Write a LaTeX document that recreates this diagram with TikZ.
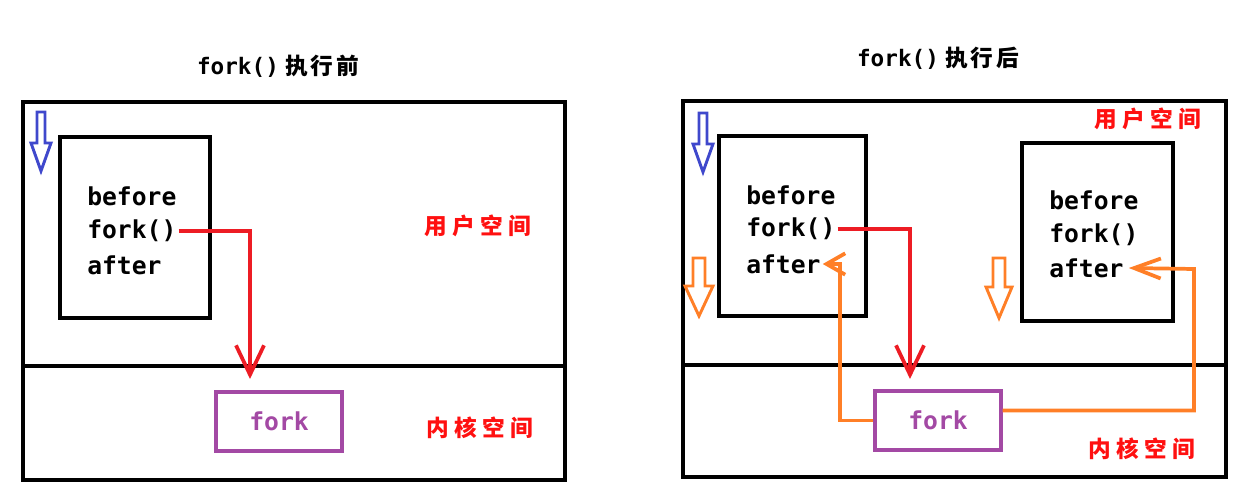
\documentclass[tikz,border=0pt]{standalone}
\usepackage{fontspec}
\setmonofont{DejaVu Sans Mono}
\newfontfamily\cjk{Noto Sans CJK SC}
\usepackage{tikz}
\usetikzlibrary{arrows.meta,calc}
\definecolor{paintred}{HTML}{ED1C24}
\definecolor{paintblue}{HTML}{3F48CC}
\definecolor{paintorange}{HTML}{FF7F27}
\definecolor{paintpurple}{HTML}{A349A4}
\definecolor{labelred}{HTML}{FF1010}

\begin{document}
\begin{tikzpicture}[x=0.75pt,y=-0.75pt,
    frame/.style={black,line width=2.4pt},
    codeline/.style={anchor=west,inner sep=1.5pt,
      font=\fontsize{18.5}{20}\selectfont\ttfamily\bfseries},
    kernelbox/.style={draw=paintpurple,line width=2.4pt,text=paintpurple,
      minimum width=94.5pt,minimum height=44.25pt,inner sep=0pt,
      font=\fontsize{18.5}{20}\selectfont\ttfamily\bfseries},
    spacelabel/.style={text=labelred,inner sep=0pt,
      font=\fontsize{17}{18}\selectfont\cjk\bfseries},
    title/.style={inner sep=0pt,font=\fontsize{17}{18}\selectfont\ttfamily\bfseries},
    call/.style={paintred,line width=2.8pt,-{Straight Barb[length=22pt,width=21pt]}},
    ret/.style={paintorange,line width=2.8pt},
    hollow/.style={line width=2.2pt,line join=miter}]
  \useasboundingbox (0,0) rectangle (1253,491);

  % before fork()
  \node[title] (t1) at (278,66) {fork()\hspace{5pt}{\cjk 执\hspace{2pt}行\hspace{2pt}前}};
  \draw[frame] (23,102) rectangle (565,480);
  \draw[frame] (23,366) -- (565,366);
  \draw[frame] (60,137) rectangle (210,318);
  \node[codeline] (b1) at (85,196) {before};
  \node[codeline] (f1) at (85,231) {fork()};
  \node[codeline] (a1) at (85,265) {after};
  \node[kernelbox] (k1) at (279,421.5) {fork};
  \node[spacelabel] (u1) at (478,226) {用\hspace{4pt}户\hspace{4pt}空\hspace{4pt}间};
  \node[spacelabel] (n1) at (480,428) {内\hspace{4pt}核\hspace{4pt}空\hspace{4pt}间};
  \coordinate (c1) at (250,379);
  \draw[call] (f1.east) -| (c1);
  \draw[hollow,paintblue] (37,112) -- (45,112) -- (45,143) -- (51,143)
    -- (41,171) -- (31,143) -- (37,143) -- cycle;

  % after fork()
  \node[title] (t2) at (938,58) {fork()\hspace{5pt}{\cjk 执\hspace{2pt}行\hspace{2pt}后}};
  \draw[frame] (683,101) rectangle (1226,477);
  \draw[frame] (683,365) -- (1226,365);
  \draw[frame] (719,136) rectangle (866,316);
  \draw[frame] (1022,143) rectangle (1173,321);
  \node[codeline] (b2) at (744,195) {before};
  \node[codeline] (f2) at (744,229) {fork()};
  \node[codeline] (a2) at (744,264) {after};
  \node[codeline] (b3) at (1047,200) {before};
  \node[codeline] (f3) at (1047,235) {fork()};
  \node[codeline] (a3) at (1047,268) {after};
  \node[kernelbox] (k2) at (938,420.5) {fork};
  \node[spacelabel] (u2) at (1148,119) {用\hspace{4pt}户\hspace{4pt}空\hspace{4pt}间};
  \node[spacelabel] (n2) at (1142,449) {内\hspace{4pt}核\hspace{4pt}空\hspace{4pt}间};
  \coordinate (c2) at (910,379);
  \draw[call] (f2.east) -| (c2);
  \coordinate (r1) at (840,264);
  \coordinate (r2) at (1194,269);
  \draw[ret,-{Straight Barb[length=14pt,width=16pt]}] (k2.west) -| (r1) -- (a2.east);
  \draw[ret,-{Straight Barb[length=20pt,width=15pt]}] ($(k2.east)+(0,-10)$) -| (r2) -- ($(a3.east)+(3,0)$);
  \draw[hollow,paintblue] (699,113) -- (707,113) -- (707,144) -- (713,144)
    -- (703,172) -- (693,144) -- (699,144) -- cycle;
  \draw[hollow,paintorange] (693,258) -- (705,258) -- (705,286) -- (713,286)
    -- (699,316) -- (685,286) -- (693,286) -- cycle;
  \draw[hollow,paintorange] (993,258) -- (1005,258) -- (1005,287) -- (1012,287)
    -- (999,318) -- (986,287) -- (993,287) -- cycle;
\end{tikzpicture}
\end{document}
